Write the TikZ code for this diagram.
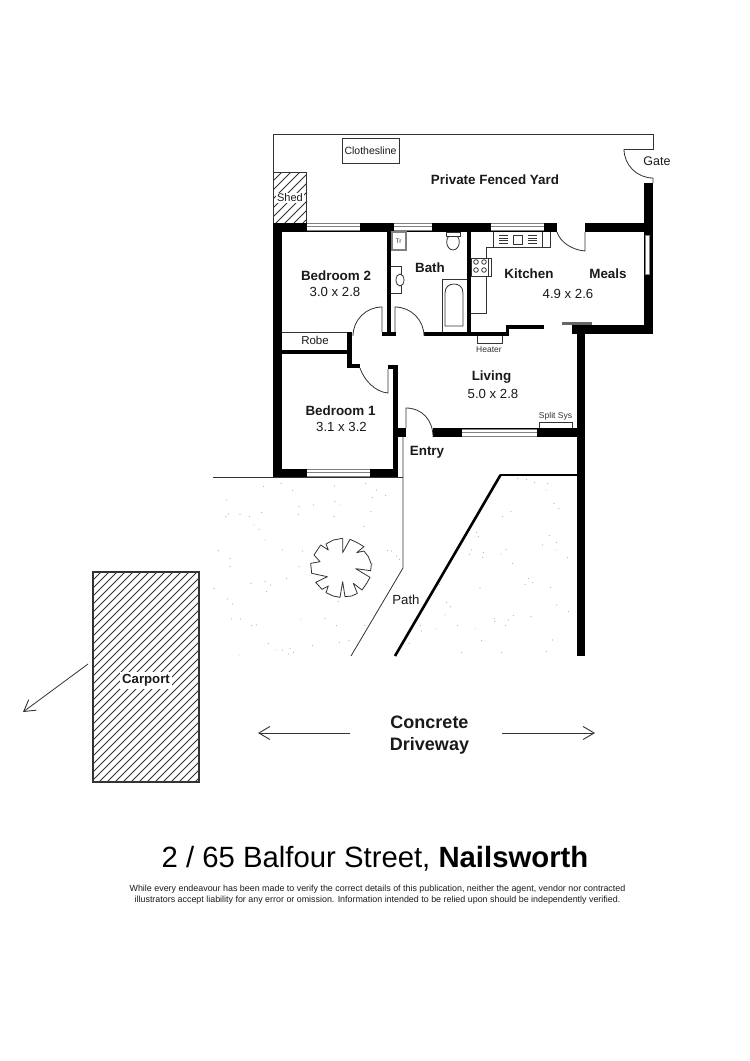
\documentclass[tikz,border=0pt]{standalone}
\usepackage{fontspec}
\setmainfont{Liberation Sans}
\definecolor{ink}{HTML}{1A1A1A}
\definecolor{thin}{HTML}{333333}
\tikzset{
  x=1pt,y=-1pt,
  wall/.style={fill=black,draw=none},
  fine/.style={draw=thin,line width=.8pt},
  medium/.style={draw=thin,line width=.95pt},
  room/.style={font=\bfseries\fontsize{13.4}{15}\selectfont,text=ink,inner sep=0pt},
  size/.style={font=\fontsize{13.2}{15}\selectfont,text=ink,inner sep=0pt},
  small/.style={font=\fontsize{11}{13}\selectfont,text=ink,inner sep=0pt},
  tiny/.style={font=\fontsize{8.5}{10}\selectfont,text=thin,inner sep=0pt},
  hatch/.style={draw=thin,line width=.75pt},
  openhead/.style={-{Straight Barb[length=11pt,width=13pt,line width=.9pt]}},
}
\usetikzlibrary{arrows.meta}
\newcommand{\windowh}[3]{% x1,x2,ytop
  \fill[white] (#1,#3) rectangle (#2,#3+8);
  \draw[draw=gray,line width=.8pt] (#1,#3+.5) -- (#2,#3+.5) (#1,#3+3.5) -- (#2,#3+3.5) (#1,#3+7) -- (#2,#3+7);
}
\begin{document}
\begin{tikzpicture}
\useasboundingbox (0,0) rectangle (750,1061);
\fill[white] (0,0) rectangle (750,1061);

% dots (landscaping)
\foreach \p/\q in {190/50,243/40,278/62,403/48,497/40,530/60,557/77,517/83,80/90,297/110,340/105,405/95,420/105,85/132,120/133,185/127,295/133,402/140,513/125,78/140,148/140,162/165,177/178,492/170,195/210,55/242,248/240,308/243,562/242,575/243,590/258,598/268,90/265,90/290,297/290,518/282,260/325,327/315,42/355,153/340,195/335,212/345,200/365,82/387,98/402,415/395,95/447,122/447,303/447,375/445,155/467,170/465,410/467,495/467,205/520,228/540,248/540,270/535,280/547,265/552,337/527,418/518,447/512,117/555,953/25,980/28,1003/38,1043/40,1038/60,1062/100,1077/115,933/125,908/140,815/170,830/188,835/200,1048/197,1070/218,1028/225,1068/240,815/240,808/253,850/248,848/263,903/252,918/238,1103/263,938/280,985/325,975/343,998/338,1052/352,840/355,718/343,740/397,752/410,735/435,1070/405,1105/425,883/447,885/455,940/437,925/450,917/467,993/440,773/467,825/477,662/467,665/483,708/477,845/512,627/520,1058/510,785/547,905/548,1040/545}
  \fill[gray] ({200+\p/3},{470+\q/3}) circle (.45pt);

% yard fence
\draw[medium] (273,223) -- (273,134) -- (653,134) -- (653,149) -- (624,149);
\draw[fine] (624,149) .. controls (624,165) and (637,178) .. (653,178) -- (653,183);

% shed
\begin{scope}
\clip (273,172) rectangle (306,223);
\foreach \i in {0,9,...,90} \draw[hatch] (222+\i,223) -- (273+\i,172);
\end{scope}
\node[small,fill=white,inner xsep=1pt,inner ysep=1pt] (shed) at (290,198) {Shed};
\draw[fine] (273,172) -- (306,172) -- (306,223);

% clothesline
\node[draw=thin,line width=.9pt,minimum width=57pt,minimum height=25pt,inner sep=0pt,font=\fontsize{10.5}{12}\selectfont,text=ink] (cloth) at (370.5,150.5) {Clothesline};

% heavy walls
\fill[wall] (273,223) rectangle (644,232);
\fill[wall] (644,183) rectangle (653,334);
\fill[wall] (273,223) rectangle (282,477);
\fill[white] (557,222) rectangle (585,233);
\fill[wall] (273,469) rectangle (398,477);
\fill[wall] (572,325) rectangle (653,334);
\fill[wall] (577,325) rectangle (585,656);
\fill[wall] (433,428) rectangle (577,437);
\fill[wall] (398,428) rectangle (406,437);
\fill[wall] (393,365) rectangle (398,477);
\fill[wall] (388,365) rectangle (398,369);
% partitions
\fill[wall] (387,232) rectangle (391,336);
\fill[wall] (382,332) rectangle (396,336);
\fill[wall] (467,232) rectangle (471,336);
\fill[wall] (424,332) rectangle (509,336);
\fill[wall] (506,325) rectangle (509,336);
\fill[wall] (506,325) rectangle (544,329);
\fill[wall] (282,350) rectangle (352,354);
\fill[wall] (347,332) rectangle (352,368);
\fill[wall] (347,364) rectangle (360,368);
\draw[fine] (282,332) -- (347,332);

% windows
\windowh{307}{360}{223}
\windowh{394}{432}{223}
\windowh{491}{544}{223}
\windowh{307}{370}{469}
\windowh{462}{537}{429}
\fill[white] (645,235) rectangle (649,274);
\draw[draw=gray,line width=.6pt] (645,235) rectangle (649,274);
\fill[gray!80!black] (562,322) rectangle (592,325);

% doors
\draw[fine] (382,332) -- (382,307) .. controls (366,307) and (353,320) .. (353,336);
\draw[fine] (395,332) -- (395,307) .. controls (411,307) and (424,320) .. (424,336);
\draw[fine] (585,232) -- (585,251) .. controls (572,250) and (560,242) .. (557,232);
\draw[fine] (388,369) -- (388,393) .. controls (375,392) and (364,380) .. (360,368);
\draw[fine] (406,428) -- (406,408) .. controls (422,408) and (433,420) .. (433,437);

% bath fittings
\draw[draw=gray,line width=1.2pt] (392,232) rectangle (406,250);
\node[font=\fontsize{6.5}{8}\selectfont,text=thin,inner sep=0pt] (tr) at (398.5,241) {Tr};
\fill[fill=white,draw=thin,line width=.8pt] (453,242) ellipse [x radius=6.3pt,y radius=8pt];
\draw[fine,fill=white] (446,232) rectangle (460,236);
\draw[fine] (391,266) -- (401,266) -- (401,293) -- (391,293);
\draw[fine,fill=white] (400,280) ellipse [x radius=4pt,y radius=6pt];
\draw[fine] (442,332) -- (442,279) -- (467,279);
\draw[fine] (445,326) -- (445,293) .. controls (445,287) and (449,284) .. (454,284) .. controls (459,284) and (463,287) .. (463,293) -- (463,326) -- cycle;

% kitchen fittings
\draw[fine] (493,232) -- (493,247) (542,232) -- (542,247) (550,232) -- (550,247) -- (486,247) -- (486,313) -- (471,313);
\draw[fine] (513,235) rectangle (522,244);
\foreach \y in {235.5,238,240.5,243} \draw[fine] (499,\y) -- (508,\y) (528,\y) -- (537,\y);
\draw[fine,fill=white] (471,258) rectangle (488,276);
\draw[fine] (488,258) rectangle (491,276);
\foreach \a/\b in {476/262,484/262,476/270,484/270} \draw[fine] (\a,\b) circle (2.3pt);

% heater, split system
\draw[fine] (477,336) -- (477,343) -- (502,343) -- (502,336);
\node[tiny] (heater) at (489,349.5) {Heater};
\draw[fine,fill=white] (539,428) -- (539,422) -- (572,422) -- (572,428);
\node[tiny] (split) at (555.5,416) {Split Sys};

% site lines
\draw[fine] (213,477.5) -- (403,477.5);
\draw[fine] (403,437) -- (403,568) -- (351,656);
\draw[draw=black,line width=1.6pt] (577,475) -- (500,475);
\draw[draw=black,line width=2.6pt] (500.5,475) -- (395,656);

% tree
\draw[fill=white,draw=thin,line width=.8pt,line join=round] plot coordinates {
 ({300+128/3},{530+25/3}) ({300+128/3},{530+68/3}) ({300+150/3},{530+28/3}) ({300+172/3},{530+38/3}) ({300+192/3},{530+50/3}) ({300+170/3},{530+68/3}) ({300+192/3},{530+63/3}) ({300+205/3},{530+80/3}) ({300+214/3},{530+103/3}) ({300+212/3},{530+122/3}) ({300+167/3},{530+116/3}) ({300+210/3},{530+142/3}) ({300+200/3},{530+160/3}) ({300+186/3},{530+180/3}) ({300+160/3},{530+160/3}) ({300+172/3},{530+190/3}) ({300+155/3},{530+198/3}) ({300+135/3},{530+200/3}) ({300+128/3},{530+155/3}) ({300+120/3},{530+202/3}) ({300+100/3},{530+198/3}) ({300+78/3},{530+188/3}) ({300+85/3},{530+168/3}) ({300+66/3},{530+178/3}) ({300+47/3},{530+157/3}) ({300+82/3},{530+140/3}) ({300+35/3},{530+130/3}) ({300+32/3},{530+100/3}) ({300+60/3},{530+95/3}) ({300+42/3},{530+75/3}) ({300+62/3},{530+45/3}) ({300+85/3},{530+60/3}) ({300+78/3},{530+42/3}) ({300+100/3},{530+30/3}) ({300+128/3},{530+25/3})};

% carport
\begin{scope}
\clip (93,572) rectangle (199,782);
\foreach \i in {0,8,...,320} \draw[hatch] (-117+\i,782) -- (93+\i,572);
\end{scope}
\draw[draw=thin,line width=1.1pt] (93,572) rectangle (199,782);
\node[font=\bfseries\fontsize{13.2}{14}\selectfont,text=ink,fill=white,inner xsep=2pt,inner ysep=3pt] (carport) at (146,680.5) {Carport};
\coordinate (carS) at (88,664);
\coordinate (carE) at (23,712);
\draw[fine,openhead] (carS) -- (carE);

% driveway
\coordinate (dL1) at (350,733); \coordinate (dL2) at (258,733);
\coordinate (dR1) at (502,733); \coordinate (dR2) at (595,733);
\draw[fine,openhead] (dL1) -- (dL2);
\draw[fine,openhead] (dR1) -- (dR2);
\node[font=\bfseries\fontsize{18}{22}\selectfont,text=ink,align=center,inner sep=0pt] (drive) at (429.5,735) {Concrete\\Driveway};

% labels
\node[room] (yard) at (495,179.5) {Private Fenced Yard};
\node[small,font=\fontsize{12.5}{14}\selectfont] (gate) at (657,161.5) {Gate};
\node[room] (bed2) at (336,276) {Bedroom 2};
\node[size] (bed2s) at (335,292) {3.0 x 2.8};
\node[room] (bath) at (430,267.5) {Bath};
\node[room] (kit) at (529,274) {Kitchen};
\node[room] (meals) at (608,274) {Meals};
\node[size] (kits) at (568,293.5) {4.9 x 2.6};
\node[small,font=\fontsize{11.5}{13}\selectfont] (robe) at (315,340.5) {Robe};
\node[room] (living) at (491.5,377) {Living};
\node[size] (livs) at (493,393.5) {5.0 x 2.8};
\node[room] (bed1) at (340.5,410.5) {Bedroom 1};
\node[size] (bed1s) at (341.5,427) {3.1 x  3.2};
\node[room] (entry) at (427,452.5) {Entry};
\node[size] (path) at (406,600) {Path};

% title
\node[font=\fontsize{29.3}{33}\selectfont,text=black,inner sep=0pt] (title) at (375,859) {2 / 65 Balfour Street, \textbf{Nailsworth}};
\node[font=\fontsize{8.9}{10.8}\selectfont,text=ink,align=center,inner sep=0pt] (note) at (377.5,894.5) {While every endeavour has been made to verify the correct details of this publication, neither the agent, vendor nor contracted\\illustrators accept liability for any error or omission. Information intended to be relied upon should be independently verified.};
\end{tikzpicture}
\end{document}
